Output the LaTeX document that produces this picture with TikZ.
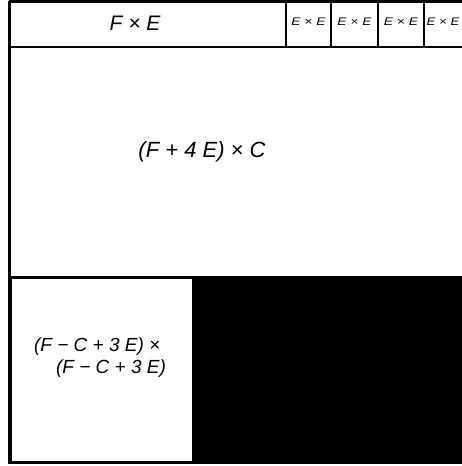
\documentclass[tikz,border=0pt]{standalone}
\usepackage{fontspec}
\setmainfont{Liberation Sans}
\usetikzlibrary{positioning}

\begin{document}
\begin{tikzpicture}[x=1pt,y=-1pt,
  cell/.style={draw,line width=2pt,anchor=north west,inner sep=0pt,font=\itshape},
  small/.style={cell,font=\itshape\fontsize{11}{13}\selectfont},
  lbl/.style={align=left,font=\itshape\fontsize{19}{22}\selectfont}]
\useasboundingbox[fill=white] (0,0) rectangle (462,466);
\clip (0,0) rectangle (462,466);
% header row
\node[cell,minimum width=276pt,minimum height=45pt,font=\itshape\fontsize{21}{24}\selectfont] (fe) at (9,1) {\hspace*{-26pt}\raisebox{3pt}{F × E}};
\node[small,minimum width=45pt,minimum height=45pt] (ee1) at (285,1) {\raisebox{5pt}{\scalebox{1.25}[1]{E × E}}};
\node[small,minimum width=47pt,minimum height=45pt] (ee2) at (330,1) {\raisebox{5pt}{\scalebox{1.25}[1]{E × E}}};
\node[small,minimum width=46pt,minimum height=45pt] (ee3) at (377,1) {\raisebox{5pt}{\scalebox{1.25}[1]{E × E}}};
\node[small,minimum width=47pt,minimum height=45pt] (ee4) at (423,1) {\hspace*{-9pt}\raisebox{5pt}{\scalebox{1.2}[1]{E × E}}};
% main block
\node[cell,minimum width=470pt,minimum height=230pt] (mid) at (9,46) {};
\node[lbl,font=\itshape\fontsize{22}{26}\selectfont] (midlbl) at (202,152) {(F + 4 E) × C};
% lower row
\node[cell,line width=3pt,minimum width=183pt,minimum height=185pt] (low) at (9,276) {};
\node[lbl] (lowlbl) at (100,358) {(F − C + 3 E) ×\\\hspace*{22pt}(F − C + 3 E)};
\node[cell,fill=black,minimum width=280pt,minimum height=186pt] (blk) at (192,276) {};
% outer frame
\draw[line width=3pt] (fe.north west) -- (low.south west);
\draw[line width=3pt] (fe.north west) -- (ee4.north east);
\end{tikzpicture}
\end{document}
